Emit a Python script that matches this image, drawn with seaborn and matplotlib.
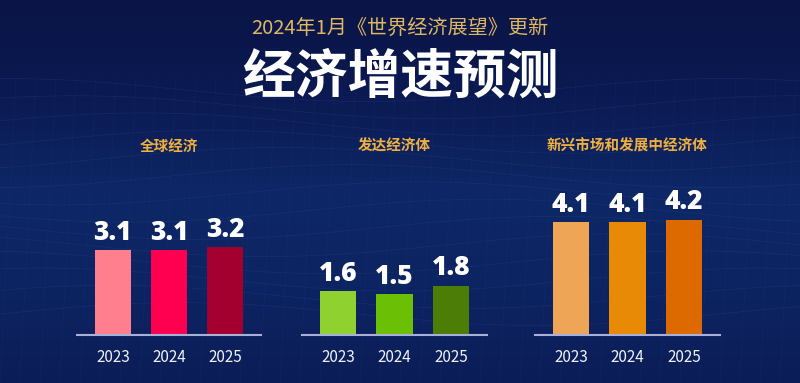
import numpy as np
import pandas as pd
import matplotlib
matplotlib.use("Agg")
import matplotlib.pyplot as plt
import seaborn as sns

# data
years = ["2023", "2024", "2025"]
panel_titles = ["全球经济", "发达经济体", "新兴市场和发展中经济体"]
world = [3.1, 3.1, 3.2]
advanced = [1.6, 1.5, 1.8]
emerging = [4.1, 4.1, 4.2]
series = [world, advanced, emerging]

palettes = [
    ["#FF7F8F", "#FF0050", "#A3002F"],
    ["#8FD12E", "#6BBF05", "#4C7D06"],
    ["#EFA556", "#E88A05", "#DC6A00"],
]

sns.set_style("white")
plt.rcParams["font.family"] = ["Noto Sans CJK SC", "DejaVu Sans"]

W, H = 800, 383
fig = plt.figure(figsize=(8, 3.83), dpi=100)

# background gradient
bg = fig.add_axes([0, 0, 1, 1])
grad = np.linspace(0, 1, 256).reshape(-1, 1)
cmap = matplotlib.colors.LinearSegmentedColormap.from_list(
    "bg", ["#0A1446", "#0B1A52", "#0E2766", "#0D2462", "#0B1D58"])
bg.imshow(grad, aspect="auto", cmap=cmap, extent=[0, 1, 0, 1])
# faint mesh texture
xs = np.linspace(0, 1, 200)
for k in range(14):
    y0 = 0.18 + k * 0.045
    bg.plot(xs, y0 + 0.03 * np.sin(xs * 7 + k * 0.6), color="#3050A0", lw=0.5, alpha=0.25)
for k in range(40):
    x0 = k / 40
    bg.plot([x0, x0 + 0.02], [0, 0.8], color="#3050A0", lw=0.4, alpha=0.15)
bg.set_xlim(0, 1)
bg.set_ylim(0, 1)
bg.axis("off")

fig.text(0.5, 1 - 28 / H, "2024年1月《世界经济展望》更新", ha="center", va="center",
         fontsize=14.5, color="#DDB763")
fig.text(0.5, 1 - 77 / H, "经济增速预测", ha="center", va="center",
         fontsize=38, fontweight="bold", color="white")

# axes positions in pixels (left, right)
spans = [(77, 261), (302, 487), (535, 720)]
base_y = 335
px_per_unit = 27.5
ymax = 6.0
ax_h = ymax * px_per_unit

for i, (vals, title, pal, (x0, x1)) in enumerate(zip(series, panel_titles, palettes, spans)):
    ax = fig.add_axes([x0 / W, 1 - base_y / H, (x1 - x0) / W, ax_h / H])
    df = pd.DataFrame({"year": years, "value": vals})
    sns.barplot(data=df, x="year", y="value", hue="year", palette=pal,
                width=0.65, legend=False, ax=ax, saturation=1,
                edgecolor="none", linewidth=0)
    ax.set_xlim(-0.64, 2.64)
    ax.set_ylim(0, ymax)
    ax.patch.set_alpha(0)
    for c in ax.containers:
        ax.bar_label(c, fmt="%.1f", padding=3, fontsize=19, fontweight="heavy",
                     color="white", family="Open Sans")
    for s in ["top", "right", "left"]:
        ax.spines[s].set_visible(False)
    ax.spines["bottom"].set_color("#A8B0D8")
    ax.spines["bottom"].set_linewidth(1.5)
    ax.set_yticks([])
    ax.set_xlabel("")
    ax.set_ylabel("")
    ax.tick_params(axis="x", length=0, pad=10, labelsize=11, labelcolor="#F0F2FA")
    cx = (x0 + x1) / 2 / W
    if i == 2:
        cx = 627 / W
    fig.text(cx, 1 - 146 / H, title, ha="center", va="center", fontsize=10.5,
             fontweight="bold", color="#F0B040")

fig.savefig("out.png", dpi=100)
